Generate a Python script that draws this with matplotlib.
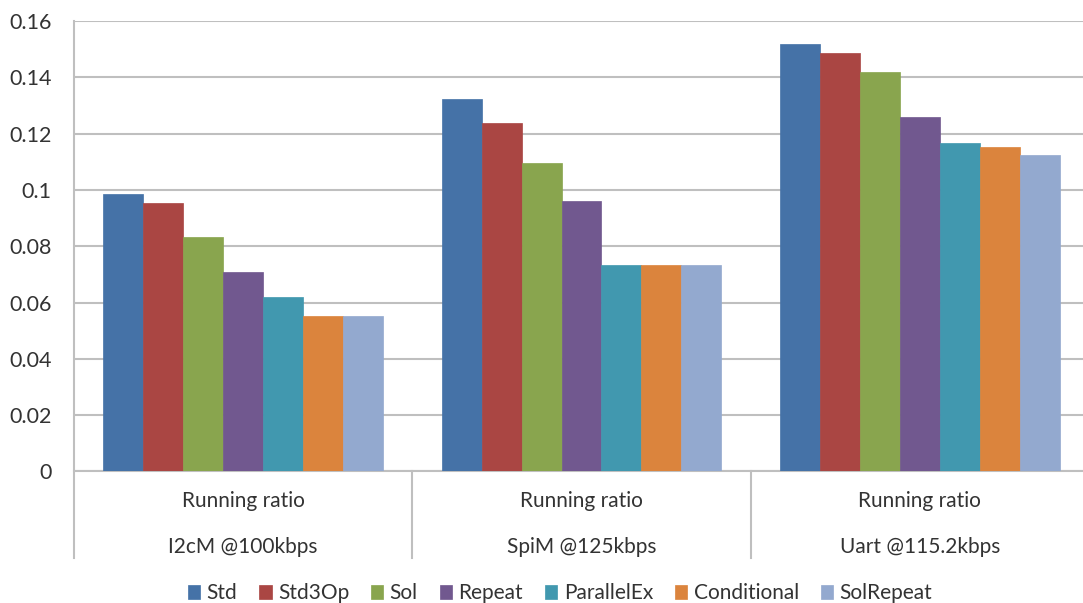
import matplotlib
matplotlib.use("Agg")
import matplotlib.pyplot as plt
import numpy as np

plt.rcParams["font.family"] = ["Lato", "DejaVu Sans"]

# Data
groups = ["I2cM @100kbps", "SpiM @125kbps", "Uart @115.2kbps"]
group_sub = "Running ratio"
series = ["Std", "Std3Op", "Sol", "Repeat", "ParallelEx", "Conditional", "SolRepeat"]
values = {
    "Std":         [0.0984, 0.1322, 0.1518],
    "Std3Op":      [0.0955, 0.1237, 0.1486],
    "Sol":         [0.0834, 0.1094, 0.1418],
    "Repeat":      [0.0709, 0.0962, 0.1258],
    "ParallelEx":  [0.0620, 0.0734, 0.1165],
    "Conditional": [0.0552, 0.0734, 0.1151],
    "SolRepeat":   [0.0552, 0.0734, 0.1123],
}
yticks = [0, 0.02, 0.04, 0.06, 0.08, 0.1, 0.12, 0.14, 0.16]
ytick_labels = ["0", "0.02", "0.04", "0.06", "0.08", "0.1", "0.12", "0.14", "0.16"]

colors = ["#4572A7", "#AA4643", "#89A54E", "#71588F", "#4198AF", "#DB843D", "#93A9CF"]
text_color = "#333333"
line_color = "#bfbfbf"

fig = plt.figure(figsize=(10.83, 6.03), dpi=100)
ax = fig.add_axes([0.0683, 0.2181, 1.0055 - 0.0683, 0.9652 - 0.2181])

n = len(series)
bar_w = 0.118
x = np.arange(len(groups))
for i, (name, col) in enumerate(zip(series, colors)):
    offs = (i - (n - 1) / 2) * bar_w
    ax.bar(x + offs, values[name], width=bar_w, color=col, label=name,
           edgecolor=col, linewidth=0.5, zorder=3)

ax.set_xlim(-0.5, len(groups) - 0.5)
ax.set_ylim(0, 0.16)
ax.set_yticks(yticks)
ax.set_yticklabels(ytick_labels, fontsize=15.5, color=text_color)
ax.tick_params(axis="y", length=0, pad=16)
ax.set_xticks([])
ax.grid(axis="y", color=line_color, linewidth=1.5, zorder=0)

for side in ["top", "right", "left"]:
    ax.spines[side].set_visible(False)
ax.spines["bottom"].set_color(line_color)
ax.spines["bottom"].set_linewidth(1.5)

# category axis: left line, group separators and two-level labels
xt = ax.get_xaxis_transform()
for b in np.arange(len(groups)) - 0.5:
    ax.plot([b, b], [1 if b == -0.5 else 0, -0.192], transform=xt, color=line_color,
            linewidth=1.5, clip_on=False, zorder=4)
for xi, g in zip(x, groups):
    ax.text(xi, -0.066, group_sub, transform=xt, ha="center", va="center",
            fontsize=15, color=text_color)
    ax.text(xi, -0.168, g, transform=xt, ha="center", va="center",
            fontsize=15, color=text_color)

fig.legend(loc="center", bbox_to_anchor=(0.517, 0.016), ncol=n, frameon=False,
           fontsize=15, handlelength=0.6, handleheight=0.6, handletextpad=0.3,
           columnspacing=1.05, labelcolor=text_color)

fig.savefig("out.png", dpi=100)
